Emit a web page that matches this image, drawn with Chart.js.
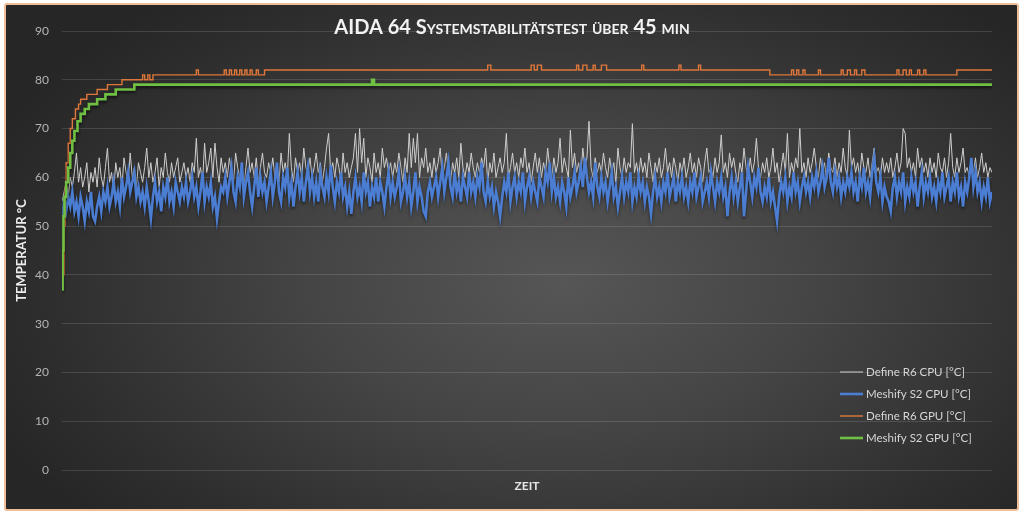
<!DOCTYPE html>
<html><head><meta charset="utf-8">
<script src="https://cdn.jsdelivr.net/npm/chart.js@4"></script>
<style>
html,body{margin:0;padding:0;background:#fff;width:1024px;height:515px;overflow:hidden}
#frame{position:absolute;left:4px;top:3px;width:1011px;height:504px;border:2px solid #efbd98;border-radius:3px;
background:radial-gradient(ellipse 62% 72% at 55% 55%, #565656 0%, #454545 40%, #2e2e2e 82%, #262626 100%);}
#c{position:absolute;left:0;top:0}
</style></head><body>
<div id="frame"></div>
<canvas id="c" width="1024" height="515"></canvas>
<script>
const chartTitle = 'AIDA 64 Systemstabilitätstest über 45 min';
const yTitle = 'TEMPERATUR °C';
const xTitle = 'ZEIT';
const seriesNames = ['Define R6 CPU [°C]', 'Meshify S2 CPU [°C]', 'Define R6 GPU [°C]', 'Meshify S2 GPU [°C]'];
const yTicks = [0,10,20,30,40,50,60,70,80,90];
const sampleStepMin = 0.1; // CPU samples, minutes apart

const r6Cpu = [
55,57,59,56,60,58,61,65,59,62,58,60,63,57,61,59,62,58,64,60,
58,62,66,59,61,57,63,60,62,58,64,61,59,65,60,62,58,63,61,59,
62,66,60,63,59,61,64,58,62,60,65,61,59,63,60,62,64,59,61,63,
60,62,59,63,61,68,60,62,59,67,61,63,66,60,67,62,59,64,61,63,
60,64,61,59,65,62,60,63,58,62,66,61,63,60,64,59,62,65,61,60,
63,61,64,60,62,59,65,61,63,60,69,62,59,64,61,63,60,66,62,61,
64,60,62,65,61,63,59,62,66,69,61,63,60,64,62,59,65,61,63,60,
62,64,69,61,70,63,68,60,64,62,59,65,61,63,60,66,62,64,61,63,
60,63,61,65,62,59,64,61,69,62,68,63,69,60,64,62,66,61,63,60,
64,61,63,66,60,62,65,61,59,63,61,64,60,67,62,60,63,61,65,62,
60,63,61,64,62,66,59,63,61,65,60,62,64,61,63,69,60,62,65,61,
63,60,64,62,66,61,63,59,62,65,61,64,60,63,61,66,62,60,64,61,
63,68,61,64,62,60,69.7,62,65,61,63,60,66,62,64,71.5,62,60,64,61,
63,61,65,62,60,64,61,63,59,66,62,60,64,61,63,62,71,61,63,60,
64,61,63,60,65,62,59,63,61,64,60,62,66,61,63,60,64,62,59,63,
61,64,60,62,65,61,63,60,64,62,59,63,66,61,62,60,64,61,63,68.7,
61,63,60,65,62,64,61,59,63,61,66,62,60,64,61,63,68,62,60,63,
61,64,60,62,66,61,63,59,62,65,61,69,60,63,61,64,62,70,61,63,
60,64,61,63,66,62,60,64,61,63,59,65,62,61,64,60,63,61,66,62,
60,69.7,62,64,61,63,60,65,62,61,64,60,63,66,61,62,60,64,61,63,
61,64,60,62,65,61,63,70,69,62,64,61,63,60,66,62,64,61,63,60,
64,61,63,60,65,62,61,64,60,63,69,62,60,64,61,63,66,61,62,60,
63,61,64,60,62,65,61,63,60,62,61];

const s2Cpu = [
52,55,53,56,54,57,53,55,52,56,54,51,55,53,57,52,51,54,56,53,
57,55,58,54,56,59,55,57,54,60,56,58,61,57,59,61,56,58,55,57,
54,58,55,51.5,56,59,55,57,53,58,56,60,55,57,54,59,57,55,58,56,
59,55,57,60,56,58,54,57,61,55,58,56,59,54,56,51.5,55,58,57,60,
56,59,62,57,55,60,58,63,56,59,61,57,54,58,62,56,60,57,59,55,
58,61,56,59,63,57,55,60,58,62,56,59,54,58,61,57,60,55,59,62,
57,60,56,59,55,61,58,56,60,57,62.5,58,55,59,57,61,56,58,54,57,
52.5,57,60,56,58,55,61,57,59,54,58,56,60,55,59,57,54,58,61,56,
59,56,58,61,55,57,60,56,59,54,57,61,55,58,56,53,52,57,59,56,
58,60,56,59,62,57,60,63,58,56,61,57,59,55,60,58,56,61,57,59,
56,60,58,63,57,55,59,56,58,54,57,55,52,56,59,57,61,55,58,60,
56,59,57,61,55,58,60,56,59,57,55,60,58,56,61,59,63,57,60,56,
58,55,59,57,54,60,56,58,61,57,59,62,58,64,60,57,59,56,63,58,
56,60,57,59,55,58,61,56,58,54,57,60,56,59,57,61,55,58,56,60,
57,59,55,58,56,52.5,57,60,56,58,55,59,57,61,56,58,60,55,59,57,
60,56,58,55,59,57,61,56,58,60,55,57,59,56,61,58,55,59,57,60,
56,58,52,57,60,56,59,55,58,61,52,57,62,59,56,60,58,62,57,55,
58,56,60,55,57,54,51,56,59,57,60,55,58,56,61,57,59,55,58,60,
57,59,56,60,58,61,57,59,62,58,60,64,59,57,61,58,60,56,59,57,
60,58,61,57,59,55,60,58,62,57,59,56,61,64,59,57,60,55,58,56,
55,53,58,60,56,59,57,61,55,58,56,60,57,59,54,58,61,56,59,57,
60,56,58,55,59,57,61,56,58,60,55,59,57,61,56,58,54,59,57,60,
64,58,61,57,59,55,58,56,60,55,57];

// GPU readings: [minute, °C], value holds until the next reading
const r6Gpu = [
[0.05,40],[0.1,50],[0.15,58],[0.2,63],[0.3,67],[0.4,70],[0.5,72],[0.65,74],[0.8,75],[0.9,76],[1.2,77],[1.7,78],[2.2,79],[2.9,80],
[3.9,81],[4.0,80],[4.15,81],[4.25,80],[4.4,81],
[6.5,82],[6.6,81],
[7.85,82],[7.95,81],[8.1,82],[8.2,81],[8.35,82],[8.45,81],[8.6,82],[8.7,81],[8.85,82],[8.95,81],[9.1,82],[9.2,81],[9.4,82],[9.5,81],
[9.8,82],
[20.6,83],[20.75,82],[22.7,83],[22.85,82],[23.0,83],[23.2,82],[24.9,83],[25.0,82],[25.2,83],[25.4,82],[25.7,83],[25.8,82],[26.1,83],[26.35,82],
[28.05,83],[28.15,82],[29.85,83],[29.95,82],[30.8,83],[30.9,82],
[34.25,81],
[35.3,82],[35.4,81],[35.55,82],[35.65,81],[35.85,82],[35.95,81],[36.6,82],[36.7,81],[37.7,82],[37.8,81],[38.0,82],[38.15,81],[38.35,82],[38.45,81],[38.7,82],[38.85,81],
[40.4,82],[40.5,81],[40.7,82],[40.85,81],[41.0,82],[41.1,81],[41.4,82],[41.5,81],[41.7,82],[41.8,81],
[43.3,82],[45,82]];

const s2Gpu = [
[0,37],[0.03,45],[0.07,52],[0.12,56],[0.2,59],[0.3,62],[0.4,65],[0.5,67.5],[0.6,69.5],[0.75,71.5],[0.9,73],[1.1,74],[1.3,75],[1.7,76],[2.1,77],[2.6,78],[3.5,79],
[15.0,80],[15.1,79],[45,79]];

const colors = ['#cfcfcf', '#4b7dd3', '#e0773a', '#6fc043'];
const widths = [1, 2.6, 1.4, 2.6];

const cpuPoints = arr => arr.map((v, i) => ({x: i * sampleStepMin, y: v}));
const gpuPoints = arr => arr.map(p => ({x: p[0], y: p[1]}));

const titlePlugin = {
  id: 'smallCapsTitle',
  afterDraw(chart) {
    const ctx = chart.ctx;
    ctx.save();
    ctx.font = 'bold 20px Lato';
    try { ctx.fontVariantCaps = 'small-caps'; } catch (e) {}
    ctx.fillStyle = '#f2f2f2';
    ctx.textAlign = 'center';
    ctx.textBaseline = 'middle';
    ctx.fillText(chartTitle, chart.width / 2, 28);
    ctx.restore();
  }
};

const legendPlugin = {
  id: 'insideLegend',
  afterDraw(chart) {
    const ctx = chart.ctx, a = chart.chartArea;
    const x0 = a.right - 152, y0 = a.bottom - 98;
    ctx.save();
    ctx.font = '11.5px Lato';
    ctx.textBaseline = 'middle';
    ctx.textAlign = 'left';
    chart.data.datasets.forEach((ds, i) => {
      const y = y0 + i * 22;
      ctx.strokeStyle = ds.borderColor;
      ctx.lineWidth = ds.borderWidth;
      ctx.beginPath(); ctx.moveTo(x0, y); ctx.lineTo(x0 + 23, y); ctx.stroke();
      ctx.fillStyle = '#d6d6d6';
      ctx.fillText(ds.label, x0 + 26, y);
    });
    ctx.restore();
  }
};

const shadowPlugin = {
  id: 'lineShadow',
  beforeDatasetDraw(chart, args) {
    if (args.index === 1 || args.index === 3) {
      const ctx = chart.ctx;
      ctx.save();
      ctx.shadowColor = 'rgba(0,0,0,0.6)';
      ctx.shadowBlur = 3;
      ctx.shadowOffsetY = 2;
    }
  },
  afterDatasetDraw(chart, args) {
    if (args.index === 1 || args.index === 3) chart.ctx.restore();
  }
};

new Chart(document.getElementById('c'), {
  type: 'line',
  data: {
    datasets: [
      {label: seriesNames[0], data: cpuPoints(r6Cpu), borderColor: colors[0], borderWidth: widths[0], order: 4},
      {label: seriesNames[1], data: cpuPoints(s2Cpu), borderColor: colors[1], borderWidth: widths[1], order: 3},
      {label: seriesNames[2], data: gpuPoints(r6Gpu), borderColor: colors[2], borderWidth: widths[2], stepped: true, order: 2},
      {label: seriesNames[3], data: gpuPoints(s2Gpu), borderColor: colors[3], borderWidth: widths[3], stepped: true, order: 1}
    ]
  },
  options: {
    responsive: false,
    animation: false,
    events: [],
    layout: {padding: {top: 31, right: 32, left: 0, bottom: 0}},
    elements: {point: {radius: 0}, line: {tension: 0, fill: false}},
    plugins: {legend: {display: false}, title: {display: false}, tooltip: {enabled: false}},
    scales: {
      x: {
        type: 'linear', min: 0, max: 45,
        ticks: {display: false},
        grid: {display: false},
        border: {display: false},
        title: {display: true, text: xTitle, color: '#e6e6e6', font: {family: 'Lato', size: 12, weight: 'bold'}, padding: {top: 0, bottom: 22}},
        afterFit(s) { s.height = 45; }
      },
      y: {
        min: 0, max: 90,
        afterBuildTicks(s) { s.ticks = yTicks.map(v => ({value: v})); },
        ticks: {color: '#b4b4b4', font: {family: 'Lato', size: 12}, padding: 13},
        grid: {color: 'rgba(255,255,255,0.13)', lineWidth: 1, drawTicks: false},
        border: {display: false},
        title: {display: true, text: yTitle, color: '#ececec', font: {family: 'Lato', size: 13, weight: 'bold'}, padding: {top: 14, bottom: 0}},
        afterFit(s) { s.width = 62; }
      }
    }
  },
  plugins: [titlePlugin, legendPlugin, shadowPlugin]
});
</script>
</body></html>
